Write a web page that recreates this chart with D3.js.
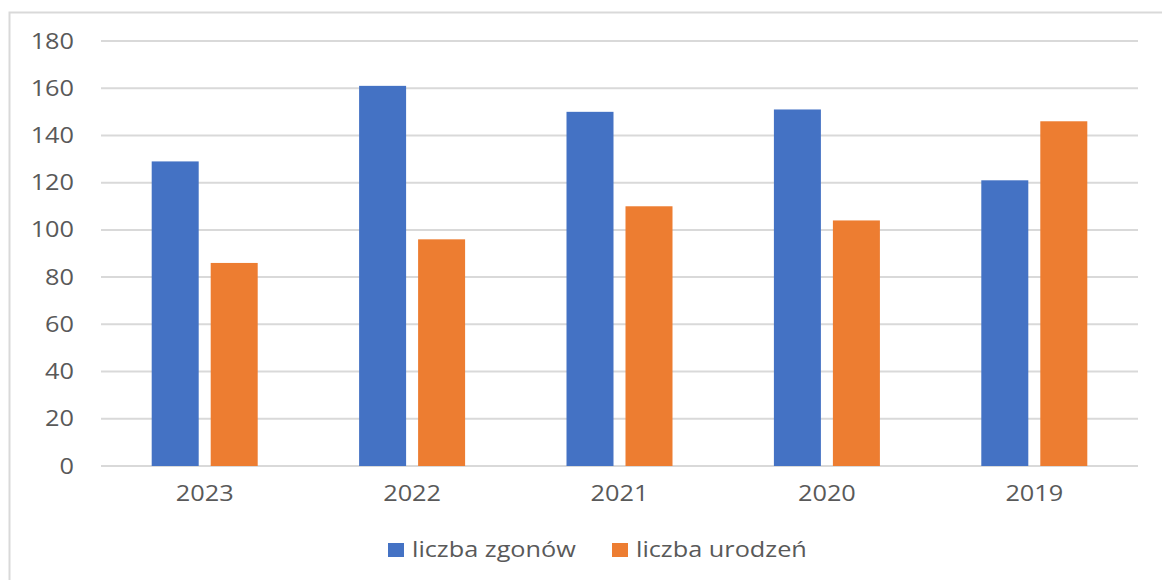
<!DOCTYPE html>
<html>
<head>
<meta charset="utf-8">
<script src="https://cdn.jsdelivr.net/npm/d3@7"></script>
<style>
  body { margin: 0; background: #fff; }
  svg text { font-family: "Open Sans", sans-serif; fill: #595959; }
</style>
</head>
<body>
<div id="chart"></div>
<script>
// data
const years = ['2023', '2022', '2021', '2020', '2019'];
const zgony = [129, 161, 150, 151, 121];
const urodzenia = [86, 96, 110, 104, 146];
const seriesNames = ['liczba zgonów', 'liczba urodzeń'];
const seriesColors = ['#4472c4', '#ed7d31'];
const yTicks = [0, 20, 40, 60, 80, 100, 120, 140, 160, 180];

const width = 1162, height = 580;
const margin = {left: 101, right: 24, top: 41, bottom: 114};
const fontsize = 22;
const stretch = 1.15;   // source text is a bit wider than Open Sans

let svg = d3.select('#chart').append('svg')
    .attr('width', width)
    .attr('height', height);

// outer chart frame (runs off the right and bottom edge)
svg.append('rect')
    .attr('x', 9.5).attr('y', 12.5)
    .attr('width', 1200).attr('height', 620)
    .attr('fill', 'none')
    .attr('stroke', '#d9d9d9')
    .attr('stroke-width', 2);

let xScale = d3.scaleBand()
    .domain(years)
    .range([margin.left, width - margin.right]);

let yScale = d3.scaleLinear()
    .domain([0, 180])
    .range([height - margin.bottom, margin.top]);

// gridlines
svg.selectAll('line.grid')
    .data(yTicks)
    .join('line')
    .attr('class', 'grid')
    .attr('x1', margin.left)
    .attr('x2', width - margin.right)
    .attr('y1', d => yScale(d))
    .attr('y2', d => yScale(d))
    .attr('stroke', '#d9d9d9')
    .attr('stroke-width', 2);

// y labels
let yAxis = d3.axisLeft(yScale).tickValues(yTicks).tickSize(0);
let gy = svg.append('g')
    .attr('transform', `translate(${margin.left},0)`)
    .call(yAxis);
gy.select('.domain').remove();
gy.selectAll('text')
    .attr('font-size', fontsize).attr('font-family', null).attr('fill', null)
    .attr('x', -27 / stretch)
    .attr('transform', `scale(${stretch},1)`);

// x labels
let xAxis = d3.axisBottom(xScale).tickSize(0).tickPadding(19);
let gx = svg.append('g')
    .attr('transform', `translate(0,${yScale(0)})`)
    .call(xAxis);
gx.select('.domain').remove();
gx.selectAll('text')
    .attr('font-size', fontsize).attr('font-family', null).attr('fill', null)
    .attr('transform', `scale(${stretch},1)`);

// bars
const barW = 47, gap = 12;
let rows = years.map((y, i) => ({year: y, vals: [zgony[i], urodzenia[i]]}));

seriesNames.forEach((name, s) => {
    svg.selectAll('rect.s' + s)
        .data(rows)
        .join('rect')
        .attr('class', 's' + s)
        .attr('x', d => {
            let c = xScale(d.year) + xScale.bandwidth() / 2;
            return s == 0 ? c - gap / 2 - barW : c + gap / 2;
        })
        .attr('y', d => yScale(d.vals[s]))
        .attr('width', barW)
        .attr('height', d => yScale(0) - yScale(d.vals[s]))
        .attr('fill', seriesColors[s]);
});

// legend
const legendX = [388, 612];
let lg = svg.selectAll('g.legend')
    .data(seriesNames)
    .join('g')
    .attr('class', 'legend')
    .attr('transform', (d, i) => `translate(${legendX[i]},543)`);
lg.append('rect')
    .attr('width', 16).attr('height', 14)
    .attr('fill', (d, i) => seriesColors[i]);
lg.append('text')
    .attr('x', 24 / stretch).attr('y', 14)
    .attr('transform', `scale(${stretch},1)`)
    .attr('font-size', fontsize)
    .text(d => d);
</script>
</body>
</html>
